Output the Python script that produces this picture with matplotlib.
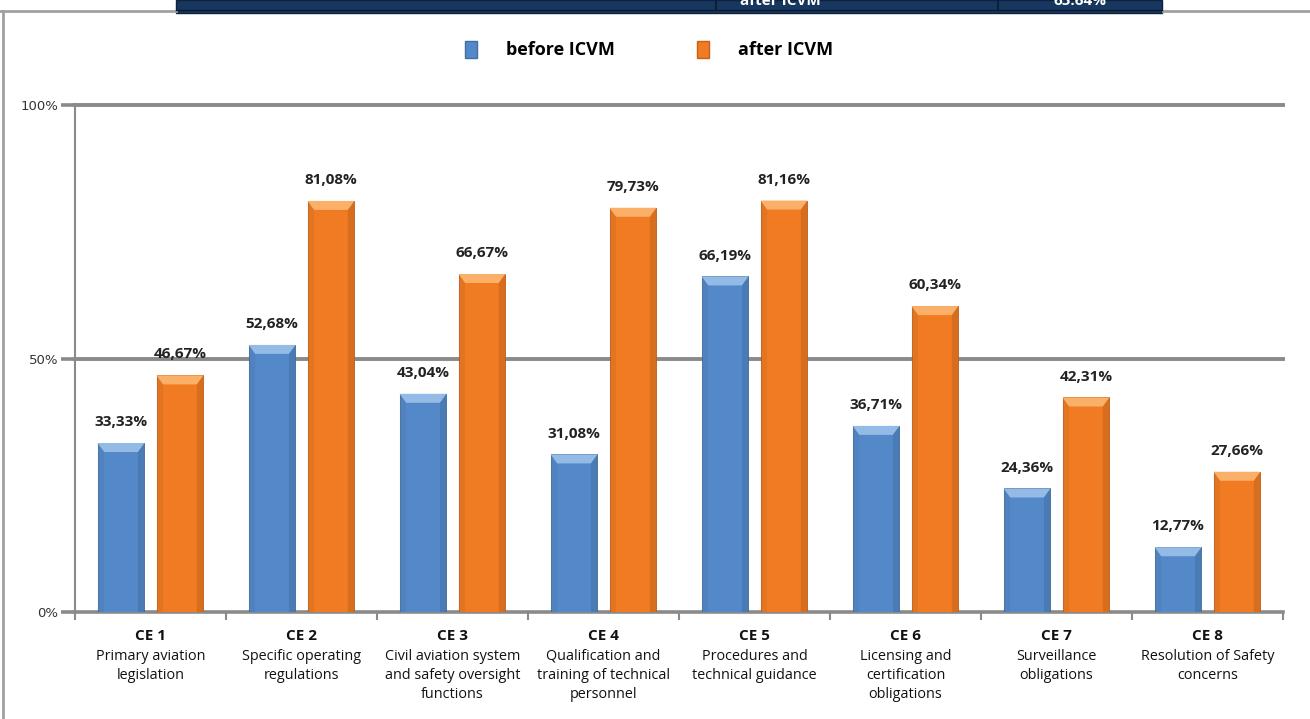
import matplotlib.pyplot as plt
import numpy as np
from matplotlib.patches import Polygon, Rectangle
from matplotlib.lines import Line2D

# chart data
codes = ['CE 1', 'CE 2', 'CE 3', 'CE 4', 'CE 5', 'CE 6', 'CE 7', 'CE 8']
descriptions = ['Primary aviation\nlegislation',
                'Specific operating\nregulations',
                'Civil aviation system\nand safety oversight\nfunctions',
                'Qualification and\ntraining of technical\npersonnel',
                'Procedures and\ntechnical guidance',
                'Licensing and\ncertification\nobligations',
                'Surveillance\nobligations',
                'Resolution of Safety\nconcerns']
before = [33.33, 52.68, 43.04, 31.08, 66.19, 36.71, 24.36, 12.77]
after = [46.67, 81.08, 66.67, 79.73, 81.16, 60.34, 42.31, 27.66]
series_names = ['before ICVM', 'after ICVM']
yticks = [0, 50, 100]

plt.rcParams['font.family'] = ['Open Sans', 'DejaVu Sans']

W, H = 1310, 719
fig = plt.figure(figsize=(W / 100, H / 100), dpi=100)
ax = fig.add_axes([75 / W, 1 - 612 / H, (1283 - 75) / W, (612 - 105) / H])

blue, blue_cap, blue_edge = '#5489c9', '#94bbe6', '#41709f'
orange, orange_cap, orange_edge = '#f07b22', '#fbb06a', '#c4611d'

x = np.arange(len(codes))
bw = 0.31
off = 0.195
bars_b = ax.bar(x - off, before, bw, color=blue, edgecolor=blue_edge, linewidth=0.6, zorder=3)
bars_a = ax.bar(x + off, after, bw, color=orange, edgecolor=orange_edge, linewidth=0.6, zorder=3)

# bevel on the top of each bar
px = 100 / 507.0
for bars, cap in [(bars_b, blue_cap), (bars_a, orange_cap)]:
    for b in bars:
        x0, w, h = b.get_x(), b.get_width(), b.get_height()
        d = w * 0.14
        c = 9 * px
        ax.add_patch(Polygon([(x0, h), (x0 + w, h), (x0 + w - d, h - c), (x0 + d, h - c)],
                             closed=True, facecolor=cap, edgecolor='none', zorder=4))
        ax.add_patch(Polygon([(x0, h), (x0 + d, h - c), (x0 + d, 0), (x0, 0)],
                             closed=True, facecolor='black', alpha=0.05, edgecolor='none', zorder=4))
        ax.add_patch(Polygon([(x0 + w, h), (x0 + w - d, h - c), (x0 + w - d, 0), (x0 + w, 0)],
                             closed=True, facecolor='black', alpha=0.10, edgecolor='none', zorder=4))

for bars, vals in [(bars_b, before), (bars_a, after)]:
    for b, v in zip(bars, vals):
        ax.annotate(f'{v:.2f}%'.replace('.', ','), (b.get_x() + b.get_width() / 2, v),
                    xytext=(0, 10), textcoords='offset points', ha='center', va='bottom',
                    fontsize=11, fontweight='bold', color='#222222')

ax.set_xlim(-0.5, len(codes) - 0.5)
ax.set_ylim(0, 100)
ax.set_yticks(yticks)
ax.set_yticklabels([f'{t}%' for t in yticks], fontsize=9.5, color='#333333', family='Liberation Sans Narrow')
for t in yticks[1:]:
    ax.axhline(t, color='#8a8a8a', linewidth=2.8, zorder=2, clip_on=False)
ax.tick_params(axis='y', length=10, width=2.6, color='#8a8a8a', pad=2)

ax.set_xticks(x)
ax.set_xticklabels(codes, fontsize=11, fontweight='bold', color='#111111')
ax.set_xticks(np.arange(len(codes) + 1) - 0.5, minor=True)
ax.tick_params(axis='x', which='major', length=0, pad=12)
ax.tick_params(axis='x', which='minor', length=6, width=1.5, color='#8a8a8a')
for xi, desc in zip(x, descriptions):
    ax.annotate(desc, (xi, 0), xycoords=('data', 'axes fraction'), xytext=(0, -26.5),
                textcoords='offset points', ha='center', va='top', fontsize=10.4,
                color='#111111', linespacing=1.36)

for s in ['top', 'right']:
    ax.spines[s].set_visible(False)
ax.spines['left'].set_color('#8a8a8a')
ax.spines['left'].set_linewidth(1.5)
ax.spines['bottom'].set_color('#8a8a8a')
ax.spines['bottom'].set_linewidth(2.6)

handles = [Rectangle((0, 0), 1, 1, facecolor=blue, edgecolor=blue_edge),
           Rectangle((0, 0), 1, 1, facecolor=orange, edgecolor=orange_edge)]
fig.legend(handles, series_names, loc='center', bbox_to_anchor=(649 / W, 1 - 50 / H), ncol=2,
           frameon=False, handlelength=0.7, handleheight=1.1, handletextpad=1.6, columnspacing=4.5,
           prop={'size': 13, 'weight': 'bold'})

# outer frame and the cut-off table above the chart
fig.add_artist(Line2D([0, 176 / W], [1 - 11 / H] * 2, color='#a0a0a0', linewidth=2))
fig.add_artist(Line2D([1163 / W, 1], [1 - 11 / H] * 2, color='#a0a0a0', linewidth=2))
fig.add_artist(Line2D([3 / W] * 2, [0, 1 - 11 / H], color='#a0a0a0', linewidth=2))
tbl = Rectangle((176 / W, 1 - 13 / H), (1162 - 176) / W, 13 / H, transform=fig.transFigure,
                facecolor='#17375e', edgecolor='#0d2240', linewidth=1)
fig.add_artist(tbl)
fig.add_artist(Line2D([176 / W, 1162 / W], [1 - 10 / H] * 2, color='#0b1a30', linewidth=1))
for xs in [716, 998]:
    fig.add_artist(Line2D([xs / W] * 2, [1 - 10 / H, 1], color='#0b1a30', linewidth=1.2))
for tx, s in [(780, 'after ICVM'), (1080, '65.64%')]:
    fig.text(tx / W, 1 - 5 / H, s, ha='center', va='baseline', color='white',
             fontsize=11, fontweight='bold')

fig.savefig('out.png', dpi=100)
